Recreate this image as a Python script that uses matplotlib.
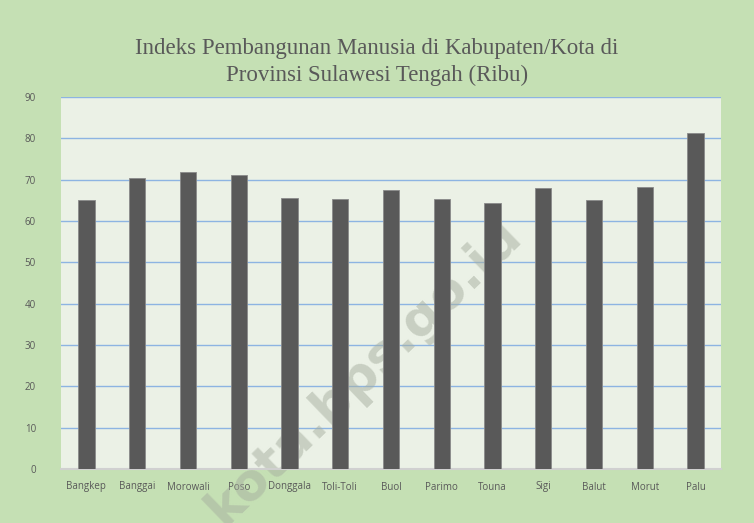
import numpy as np
import matplotlib.pyplot as plt

kabupaten = ['Bangkep', 'Banggai', 'Morowali', 'Poso', 'Donggala', 'Toli-Toli', 'Buol',
             'Parimo', 'Touna', 'Sigi', 'Balut', 'Morut', 'Palu']
ipm = [65.1, 70.3, 71.9, 71.2, 65.5, 65.4, 67.6, 65.4, 64.4, 68.0, 65.1, 68.3, 81.3]

bg = '#c5e0b4'
plot_bg = '#ebf1e6'
txt = '#595959'

fig = plt.figure(figsize=(7.54, 5.23), dpi=100, facecolor=bg)
ax = fig.add_axes([61 / 754, 1 - 469 / 523, 660 / 754, 372 / 523])
ax.set_facecolor(plot_bg)

x = np.arange(len(kabupaten))
ax.bar(x, ipm, width=0.32, color='#595959', edgecolor='#8a8a8a', linewidth=0.6, zorder=3)

ax.set_xlim(-0.5, len(kabupaten) - 0.5)
ax.set_ylim(0, 90)
ax.set_yticks(np.arange(0, 91, 10))
ax.yaxis.grid(True, color='#8db4e2', linewidth=1.0, zorder=0)
ax.set_axisbelow(True)
for s in ['top', 'right', 'left']:
    ax.spines[s].set_visible(False)
ax.spines['bottom'].set_color('#d0d0d0')
ax.spines['bottom'].set_linewidth(1.5)

ax.set_xticks(x)
ax.set_xticklabels(kabupaten, fontsize=7, color=txt, family='Open Sans')
ax.tick_params(axis='x', length=0, pad=9)
ax.tick_params(axis='y', length=0, pad=18, labelsize=7, labelcolor=txt)
for lb in ax.get_yticklabels():
    lb.set_family('Open Sans')

fig.text(0.5, 1 - 62 / 523, 'Indeks Pembangunan Manusia di Kabupaten/Kota di\nProvinsi Sulawesi Tengah (Ribu)',
         ha='center', va='center', fontsize=16.5, color=txt, family='Liberation Serif',
         linespacing=1.35)

# watermark, behind the bars
ax.text(364 / 754, 1 - 372 / 523, 'kota.bps.go.id', transform=fig.transFigure,
        rotation=44, ha='center', va='center', rotation_mode='anchor',
        fontsize=37, fontweight='bold', color='#a6ae9f', alpha=0.5,
        family='DejaVu Sans', zorder=2, clip_on=False)

fig.savefig('out.png', dpi=100, facecolor=bg)
